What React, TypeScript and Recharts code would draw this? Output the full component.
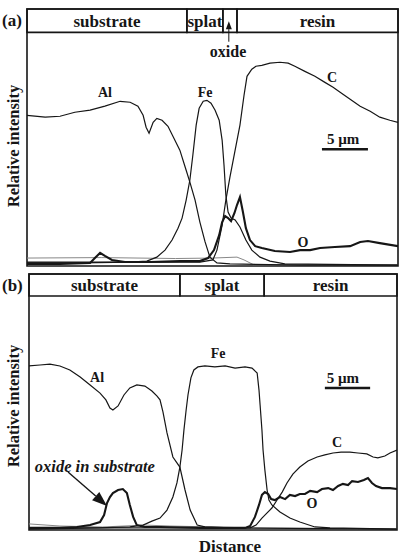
import React from "react";
import {
  LineChart,
  Line,
  XAxis,
  YAxis,
  ReferenceArea,
  ReferenceLine,
  ReferenceDot,
} from "recharts";

const FONT = '"Liberation Serif", "Times New Roman", serif';
const INK = "#161616";

// panel (a) line-scan profiles, [distance %, intensity %]
const aAl: [number, number][] = [
  [0, 64.5], [4.9, 63.7], [8.9, 64.1], [12.9, 65.8], [17, 66.7], [21, 68.4],
  [25.1, 70.5], [27.8, 70.1], [29.9, 68.4], [31.3, 64.5], [32.1, 59.4],
  [32.9, 56.8], [34, 61.5], [35, 63.2], [36.4, 62.4], [38, 59.8], [39.6, 54.7],
  [41.2, 49.6], [42.9, 41], [43.9, 35.9], [45.3, 28.2], [46.6, 18.8],
  [48, 10.3], [49.3, 3.8], [51.2, 1.3], [54.7, 0.9], [73.6, 0.4], [100, 0.4],
];
const aFe: [number, number][] = [
  [0, 1.3], [14.3, 1.3], [27.8, 1.7], [32.3, 2.1], [35, 3.8], [37.2, 6.8],
  [39.1, 11.1], [40.7, 16.2], [41.8, 20.5], [42.9, 28.2], [43.9, 36.8],
  [44.7, 47.4], [45.6, 60.3], [46.4, 67.5], [47.5, 70.5], [48.5, 70.9],
  [49.6, 69.7], [50.7, 66.7], [51.8, 62.4], [52.6, 53.8], [53.1, 43.2],
  [53.6, 30.3], [54.2, 23.1], [55, 20.5], [56.1, 19.7], [57.4, 16.7],
  [59, 11.1], [60.6, 6.8], [62.8, 3.8], [65.5, 2.1], [69.5, 0.9], [100, 0.4],
];
const aC: [number, number][] = [
  [0, 1.7], [19.7, 1.7], [46.6, 1.7], [50.1, 2.6], [51.2, 6.8], [52.6, 17.5],
  [53.6, 28.2], [54.7, 38], [56.1, 49.6], [57.4, 60.3], [58.5, 73.1],
  [59.3, 81.2], [60.6, 84.2], [61.7, 85.5], [63.3, 85.9], [65.5, 86.8],
  [68.2, 87.2], [70.4, 86.8], [72.2, 85.5], [74.9, 83.3], [77.6, 81.2],
  [80.3, 78.6], [82.5, 76.5], [84.4, 74.4], [87.1, 71.4], [89.8, 68.4],
  [92.5, 66.2], [95.1, 63.7], [97.8, 62.4], [100, 61.5],
];
const aO: [number, number][] = [
  [0, 0.9], [8.9, 0.9], [17, 1.3], [18.3, 3.4], [19.7, 5.6], [21, 4.3],
  [22.9, 2.6], [26.4, 1.7], [33.2, 1.7], [41.2, 2.1], [46.6, 2.1], [48.8, 3.4],
  [50.4, 6.8], [51.8, 13.2], [52.6, 18.8], [53.4, 21.4], [54.2, 20.5],
  [55, 19.2], [55.9, 22.6], [56.6, 26.1], [57.4, 29.5], [58.2, 23.1],
  [59, 16.2], [60.1, 11.1], [61.5, 8.5], [63.3, 7.7], [66.8, 6.4], [70.9, 6],
  [73.6, 6.8], [76.3, 6.8], [79, 7.7], [83, 8.1], [87.1, 8.5], [89.8, 10.3],
  [91.9, 10.7], [95.1, 9.8], [100, 8.5],
];
const aMinor: [number, number][] = [
  [0, 3.4], [20, 3.6], [40, 3.2], [50, 3.4], [56.6, 3.8], [58.5, 2.6],
  [61, 0.6], [100, 0.4],
];

// panel (b)
const bAl: [number, number][] = [
  [0, 70.1], [3, 70.5], [5.7, 70.9], [8.4, 70.1], [11.1, 68.4], [13.9, 65.4],
  [16.6, 62], [19.3, 58.5], [20.9, 55.6], [22, 52.1], [22.8, 51.3], [24.2, 53],
  [25.8, 57.7], [27.4, 60.7], [29.3, 62], [31.5, 61.5], [33.4, 59.4],
  [34.8, 57.2], [35.6, 55.6], [36.4, 50.5], [37.5, 41.5], [39.1, 31.2],
  [41, 26.9], [42.4, 17.1], [43.8, 8.5], [45.7, 2.1], [47.8, 1.3],
  [54.6, 0.9], [100, 0.4],
];
const bFe: [number, number][] = [
  [0, 0.4], [19.3, 0.9], [27.4, 1.3], [31, 2.1], [33.4, 3.8], [35.6, 5.1],
  [37.5, 8.5], [39.1, 14.1], [40.2, 20.1], [41, 26.9], [41.6, 34.2],
  [42.1, 42.7], [42.7, 51.3], [43.2, 57.7], [44, 65], [44.8, 68.4],
  [45.9, 69.7], [47.8, 70.1], [50.5, 69.7], [53.3, 70.1], [56, 69.2],
  [58.7, 69.7], [60.6, 69.2], [62, 67.1], [62.5, 59.8], [62.8, 53.4],
  [63.3, 42.7], [63.6, 34.2], [64.1, 25.6], [64.7, 17.1], [65.2, 12.8],
  [66, 10.7], [68.2, 7.7], [70.9, 5.1], [73.6, 3.4], [77.7, 1.3],
  [81.8, 0.9], [100, 0.4],
];
const bC: [number, number][] = [
  [0, 0.9], [46.5, 0.9], [60.1, 0.9], [61.7, 2.1], [63.3, 5.1], [64.7, 7.3],
  [66, 9.4], [67.4, 12.8], [68.8, 16.2], [70.1, 20.1], [71.7, 23.9],
  [73.6, 26.9], [75.8, 29.5], [78.3, 31.2], [80.4, 32.1], [82.6, 32.9],
  [84.8, 33.3], [87.2, 33.3], [89.4, 32.9], [91.8, 32.5], [93.5, 31.2],
  [94.8, 30.8], [96.7, 31.6], [98.1, 32.9], [100, 34.2],
];
const bO: [number, number][] = [
  [0, 0.9], [8.4, 0.9], [13, 1.3], [16.6, 2.1], [19.3, 3.4], [20.4, 6.4],
  [21.2, 11.5], [22, 14.1], [22.8, 15.8], [24.2, 17.1], [25.5, 17.5],
  [26.6, 15.8], [27.4, 10.7], [28.3, 5.6], [29.3, 2.1], [31.5, 1.3],
  [35.6, 1.3], [46.5, 0.9], [58.7, 0.9], [60.1, 1.7], [61.4, 5.6],
  [62.5, 10.7], [63.3, 15], [64.1, 16.2], [65, 15.4], [65.8, 13.2],
  [66.8, 12.8], [68.2, 14.1], [69.6, 13.2], [70.9, 15], [72.3, 14.5],
  [73.6, 15.4], [75, 15.4], [76.4, 16.7], [78.3, 16.2], [79.6, 17.5],
  [81.3, 17.9], [82.6, 17.1], [84, 18.8], [85.3, 19.7], [86.7, 19.2],
  [87.8, 20.9], [89.4, 20.5], [91, 21.4], [92.1, 22.2], [93.2, 20.1],
  [94.3, 18.8], [95.9, 17.9], [98.1, 17.9], [100, 17.5],
];
const bMinor: [number, number][] = [
  [0, 2.6], [8.4, 1.7], [20, 1.3], [31.5, 2.1], [38.3, 1.7], [50, 1.3],
  [60, 0.9], [100, 0.4],
];

// header cells: [label, from, to]
const aRegions: [string, number, number][] = [
  ["substrate", 0, 43.1],
  ["splat", 43.1, 52.8],
  ["", 52.8, 56.6],
  ["resin", 56.6, 100],
];
const bRegions: [string, number, number][] = [
  ["substrate", 0, 41],
  ["splat", 41, 63.9],
  ["resin", 63.9, 100],
];

const pts = (arr: [number, number][]) => arr.map(([x, y]) => ({ x, y }));

const txt = (size: number, italic = false) => ({
  fill: INK,
  fontSize: size,
  fontWeight: "bold",
  fontFamily: FONT,
  fontStyle: italic ? "italic" : "normal",
});

function arrowShape(p: any, head: number, headW: number) {
  const { x1, y1, x2, y2 } = p;
  const dx = x2 - x1;
  const dy = y2 - y1;
  const len = Math.sqrt(dx * dx + dy * dy) || 1;
  const ux = dx / len;
  const uy = dy / len;
  const bx = x2 - ux * head;
  const by = y2 - uy * head;
  const px = -uy * (headW / 2);
  const py = ux * (headW / 2);
  return (
    <g>
      <line x1={x1} y1={y1} x2={bx} y2={by} stroke={INK} strokeWidth={p.strokeWidth} />
      <polygon
        points={`${x2},${y2} ${bx + px},${by + py} ${bx - px},${by - py}`}
        fill={INK}
      />
    </g>
  );
}

function Tag({ x, y, text, size = 14, italic = false }: any) {
  return (
    <ReferenceDot
      x={x}
      y={y}
      r={0}
      fill="none"
      stroke="none"
      label={{ value: text, position: "center", ...txt(size, italic) }}
    />
  );
}

function Panel({
  series,
  regions,
  top,
  children,
  margin,
}: any) {
  return (
    <LineChart width={400} height={270} margin={margin}>
      <XAxis type="number" dataKey="x" domain={[0, 100]} hide allowDataOverflow />
      <YAxis type="number" domain={[0, top]} hide allowDataOverflow />
      <ReferenceArea
        x1={0}
        x2={100}
        y1={0}
        y2={top}
        fill="none"
        stroke={INK}
        strokeWidth={1.6}
        ifOverflow="visible"
      />
      {regions.map(([name, from, to]: [string, number, number]) => (
        <ReferenceArea
          key={from}
          x1={from}
          x2={to}
          y1={100}
          y2={top}
          fill="none"
          stroke={INK}
          strokeWidth={1.6}
          ifOverflow="visible"
          label={name ? { value: name, position: "center", ...txt(17) } : undefined}
        />
      ))}
      {series.map((s: any) => (
        <Line
          key={s.name}
          data={pts(s.data)}
          dataKey="y"
          type="linear"
          stroke={s.color || INK}
          strokeWidth={s.width}
          dot={false}
          isAnimationActive={false}
        />
      ))}
      {children}
    </LineChart>
  );
}

export default function App() {
  return (
    <div
      style={{
        position: "absolute",
        left: 0,
        top: 0,
        width: 400,
        height: 556,
        background: "#fff",
      }}
    >
      <div style={{ position: "absolute", left: 0, top: 0 }}>
        <Panel
          top={110}
          regions={aRegions}
          margin={{ top: 9, right: 2, bottom: 4, left: 27 }}
          series={[
            { name: "minor", data: aMinor, width: 1, color: "#888" },
            { name: "Al", data: aAl, width: 1.2 },
            { name: "Fe", data: aFe, width: 1.2 },
            { name: "C", data: aC, width: 1.2 },
            { name: "O", data: aO, width: 2.1 },
          ]}
        >
          <Tag x={21} y={74.4} text="Al" />
          <Tag x={48} y={74.4} text="Fe" />
          <Tag x={82.2} y={80.8} text="C" />
          <Tag x={74.4} y={10.3} text="O" />
          <Tag x={85.2} y={54.7} text="5 µm" size={15} />
          <Tag x={54.2} y={92} text="oxide" size={16} />
          <ReferenceLine
            segment={[{ x: 79.5, y: 50 }, { x: 91.9, y: 50 }]}
            stroke={INK}
            strokeWidth={2.5}
          />
          <ReferenceLine
            segment={[{ x: 54.4, y: 96 }, { x: 54.4, y: 104.8 }]}
            stroke={INK}
            strokeWidth={1}
            ifOverflow="visible"
            shape={(p: any) => arrowShape(p, 8, 6)}
          />
        </Panel>
      </div>
      <div style={{ position: "absolute", left: 0, top: 265 }}>
        <Panel
          top={109.4}
          regions={bRegions}
          margin={{ top: 9, right: 3, bottom: 5, left: 29 }}
          series={[
            { name: "minor", data: bMinor, width: 1, color: "#888" },
            { name: "Al", data: bAl, width: 1.2 },
            { name: "Fe", data: bFe, width: 1.2 },
            { name: "C", data: bC, width: 1.2 },
            { name: "O", data: bO, width: 2.1 },
          ]}
        >
          <Tag x={18.5} y={65.4} text="Al" />
          <Tag x={51.4} y={75.6} text="Fe" />
          <Tag x={83.7} y={37.6} text="C" />
          <Tag x={76.9} y={11.5} text="O" />
          <Tag x={85.3} y={65} text="5 µm" size={15} />
          <Tag x={17.9} y={27.4} text="oxide in substrate" size={16.5} italic />
          <ReferenceLine
            segment={[{ x: 80.4, y: 60.7 }, { x: 92.7, y: 60.7 }]}
            stroke={INK}
            strokeWidth={2.5}
          />
          <ReferenceLine
            segment={[{ x: 10.6, y: 24.8 }, { x: 21.2, y: 10.3 }]}
            stroke={INK}
            strokeWidth={1.4}
            shape={(p: any) => arrowShape(p, 15, 11)}
          />
        </Panel>
      </div>
      <svg
        width={400}
        height={556}
        style={{ position: "absolute", left: 0, top: 0, pointerEvents: "none" }}
      >
        <text x={2} y={26} {...txt(17)}>(a)</text>
        <text x={2} y={291} {...txt(17)}>(b)</text>
        <text
          transform="translate(19,146) rotate(-90)"
          textAnchor="middle"
          {...txt(16.5)}
        >
          Relative intensity
        </text>
        <text
          transform="translate(19,406) rotate(-90)"
          textAnchor="middle"
          {...txt(16.5)}
        >
          Relative intensity
        </text>
        <text x={230} y={552} textAnchor="middle" {...txt(17)}>
          Distance
        </text>
      </svg>
    </div>
  );
}
